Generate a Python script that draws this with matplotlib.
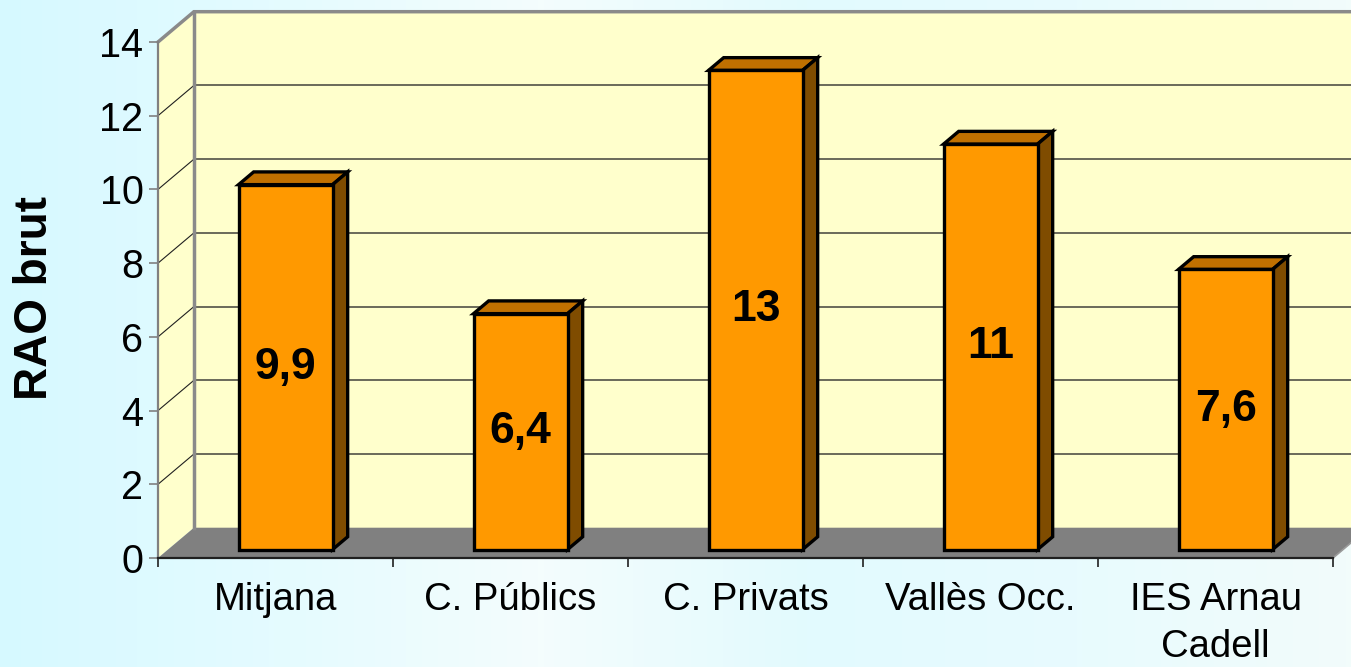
"""3D-style bar chart of RAO brut per group (Excel look)."""

import matplotlib

matplotlib.use("Agg")
import matplotlib.pyplot as plt
import numpy as np
from matplotlib.colors import LinearSegmentedColormap
from matplotlib.patches import Polygon

categories = ["Mitjana", "C. Públics", "C. Privats", "Vallès Occ.", "IES Arnau\nCadell"]
values = [9.9, 6.4, 13, 11, 7.6]
value_labels = ["9,9", "6,4", "13", "11", "7,6"]
y_ticks = [0, 2, 4, 6, 8, 10, 12, 14]
y_label = "RAO brut"

# oblique depth vector (data units) and bar placement in depth
DX, DY = 0.153, 0.822
Z0, Z1 = 0.28, 0.70
HALF_W = 0.20

WALL = "#FFFFCC"
FLOOR = "#808080"
FRONT = "#FF9900"
TOP = "#C07000"
SIDE = "#7F4C00"

plt.rcParams["font.family"] = ["Liberation Sans", "DejaVu Sans"]

fig = plt.figure(figsize=(13.51, 6.67), dpi=100)
fig.patch.set_facecolor("#E0FBFF")

# soft slide background
bg = fig.add_axes([0, 0, 1, 1], zorder=-10)
bg_cmap = LinearSegmentedColormap.from_list(
    "slide", ["#D6F9FF", "#E4FBFF", "#F4FDFD", "#E2FAFE", "#E8FBFE", "#F2FCFB"])
bg.imshow(np.linspace(0, 1, 256)[None, :], cmap=bg_cmap, aspect="auto", extent=[0, 1, 0, 1])
bg.set_axis_off()

ax = fig.add_axes([158 / 1351, 109 / 667, 1175 / 1351, 516 / 667])
ax.set_facecolor("none")
x0, x1 = -0.5, len(categories) - 0.5
y0, y1 = 0, 14
ax.set_xlim(x0, x1)
ax.set_ylim(y0, y1)


def poly(points, fc, ec="none", lw=0.0, z=1):
    ax.add_patch(Polygon(points, closed=True, facecolor=fc, edgecolor=ec,
                         linewidth=lw, zorder=z, clip_on=False, joinstyle="miter"))


# walls and floor
poly([(x0, y0), (x0 + DX, y0 + DY), (x0 + DX, y1 + DY), (x0, y1)], WALL, z=1)
poly([(x0 + DX, y0 + DY), (x1 + DX, y0 + DY), (x1 + DX, y1 + DY), (x0 + DX, y1 + DY)], WALL, z=1)
poly([(x0, y0), (x1, y0), (x1 + DX, y0 + DY), (x0 + DX, y0 + DY)], FLOOR, z=2)

# gridlines on back wall and left wall
for v in y_ticks[1:-1]:
    ax.plot([x0 + DX, x1 + DX], [v + DY, v + DY], color="#5E5E50", lw=1.3, zorder=3, clip_on=False)
    ax.plot([x0, x0 + DX], [v, v + DY], color="#202020", lw=0.8, zorder=3, clip_on=False)
# wall outlines
ax.plot([x0, x0 + DX, x1 + DX], [y1, y1 + DY, y1 + DY], color="#8A8A8A", lw=2.5, zorder=3,
        clip_on=False, solid_joinstyle="miter")
ax.plot([x0 + DX, x0 + DX], [y0 + DY, y1 + DY], color="#8A8A8A", lw=2.5, zorder=3, clip_on=False)
ax.plot([x1, x1 + DX], [y0, y0 + DY], color="#9A9A9A", lw=1.2, zorder=3, clip_on=False)

# bars
for i, v in enumerate(values):
    xl = i - HALF_W + Z0 * DX
    xr = i + HALF_W + Z0 * DX
    b = Z0 * DY
    ddx, ddy = (Z1 - Z0) * DX, (Z1 - Z0) * DY
    poly([(xl, b), (xr, b), (xr, b + v), (xl, b + v)], FRONT, "black", 2.4, z=6)
    poly([(xl, b + v), (xr, b + v), (xr + ddx, b + v + ddy), (xl + ddx, b + v + ddy)], TOP, "black", 2.4, z=5)
    poly([(xr, b), (xr + ddx, b + ddy), (xr + ddx, b + v + ddy), (xr, b + v)], SIDE, "black", 2.4, z=5)
    ax.text(i + Z0 * DX, b + v / 2, value_labels[i], ha="center", va="center",
            fontsize=32, fontweight="bold", color="black", zorder=10)

# axes styling
for side in ("top", "right"):
    ax.spines[side].set_visible(False)
ax.spines["left"].set_color("#808080")
ax.spines["left"].set_linewidth(1.6)
ax.spines["bottom"].set_color("#202020")
ax.spines["bottom"].set_linewidth(1.6)
for sp in ax.spines.values():
    sp.set_zorder(4)

ax.set_yticks(y_ticks)
ax.set_yticklabels([str(t) for t in y_ticks])
ax.tick_params(axis="y", direction="out", length=6.5, width=1.2, color="#808080",
               labelsize=28.5, pad=4)
ax.set_xticks(range(len(categories)))
ax.set_xticklabels(categories)
ax.tick_params(axis="x", which="major", length=0, labelsize=27.5, pad=17)
ax.set_xticks([k - 0.5 for k in range(len(categories) + 1)], minor=True)
ax.tick_params(axis="x", which="minor", direction="out", length=6.5, width=1.2, color="#202020")
for lab in ax.get_xticklabels():
    lab.set_linespacing(1.4)

ax.text(-0.1047, 0.504, y_label, transform=ax.transAxes, rotation=90, ha="center", va="center",
        fontsize=33, fontweight="bold")

fig.savefig("out.png", dpi=100, facecolor=fig.get_facecolor())
